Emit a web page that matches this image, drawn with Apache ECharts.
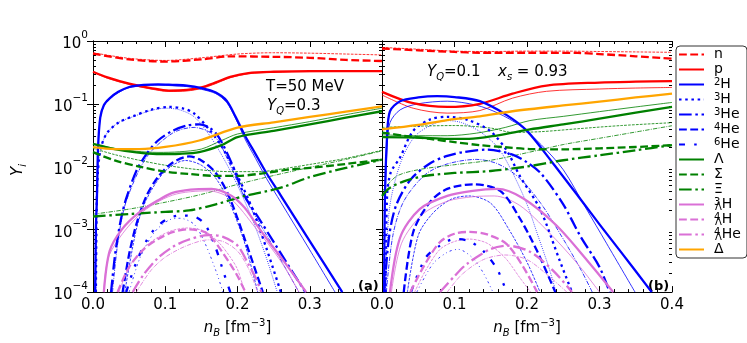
<!DOCTYPE html>
<html><head><meta charset="utf-8">
<script src="https://cdn.jsdelivr.net/npm/echarts@6/dist/echarts.min.js"></script>
<style>html,body{margin:0;padding:0;background:#fff}#c{width:747px;height:343px}</style>
</head><body><div id="c"></div>
<script>
// ---------- panel (a): T=50 MeV, Y_Q=0.3 ----------  [n_B, Y_i]
const aN   = [[0,0.63],[0.05,0.51],[0.1,0.47],[0.15,0.51],[0.19,0.57],[0.25,0.56],[0.3,0.54],[0.35,0.50],[0.4,0.48]];
const aNt  = [[0,0.65],[0.05,0.53],[0.1,0.49],[0.15,0.54],[0.2,0.62],[0.25,0.65],[0.3,0.64],[0.35,0.62],[0.4,0.60]];
const aP   = [[0,0.324],[0.02,0.263],[0.05,0.209],[0.08,0.178],[0.105,0.162],[0.13,0.166],[0.15,0.182],[0.17,0.219],[0.19,0.269],[0.215,0.309],[0.25,0.324],[0.3,0.331],[0.4,0.331]];
const aPt  = [[0,0.32],[0.02,0.255],[0.05,0.203],[0.08,0.172],[0.105,0.157],[0.13,0.160],[0.15,0.175],[0.17,0.21],[0.19,0.26],[0.215,0.30],[0.25,0.318],[0.3,0.325],[0.4,0.328]];
const a2H  = [[0.003,1e-4],[0.004,1e-3],[0.0055,0.0034],[0.007,0.02],[0.01,0.06],[0.015,0.095],[0.023,0.122],[0.035,0.155],[0.05,0.185],[0.07,0.2],[0.09,0.204],[0.11,0.2],[0.13,0.195],[0.15,0.178],[0.17,0.151],[0.185,0.112],[0.197,0.063],[0.21,0.0316],[0.225,0.0158],[0.24,0.0079],[0.26,0.00345],[0.3,6.5e-4],[0.345,1e-4]];
const a2Ht = [[0.003,1e-4],[0.004,1e-3],[0.0055,0.0033],[0.007,0.019],[0.01,0.058],[0.015,0.092],[0.023,0.118],[0.035,0.15],[0.05,0.18],[0.07,0.194],[0.09,0.198],[0.11,0.194],[0.13,0.188],[0.15,0.17],[0.17,0.145],[0.185,0.105],[0.197,0.06],[0.21,0.028],[0.225,0.0135],[0.24,0.0065],[0.26,0.0027],[0.3,4.7e-4],[0.335,1e-4]];
const a3H  = [[0.004,1e-4],[0.0055,0.004],[0.008,0.012],[0.012,0.022],[0.02,0.035],[0.035,0.05],[0.055,0.063],[0.08,0.08],[0.105,0.089],[0.125,0.084],[0.14,0.07],[0.16,0.04],[0.178,0.021],[0.2,0.0071],[0.22,0.0022],[0.24,5e-4],[0.26,1e-4]];
const a3Ht = [[0.004,1e-4],[0.0055,0.004],[0.008,0.012],[0.012,0.022],[0.02,0.035],[0.035,0.05],[0.055,0.062],[0.08,0.078],[0.1,0.085],[0.12,0.08],[0.14,0.062],[0.16,0.033],[0.18,0.014],[0.2,0.005],[0.22,0.0015],[0.24,3.5e-4],[0.255,1e-4]];
const a3He = [[0.025,1e-4],[0.03,3.5e-4],[0.035,8.5e-4],[0.04,0.0017],[0.046,0.0031],[0.06,0.0085],[0.074,0.0158],[0.09,0.026],[0.11,0.037],[0.13,0.045],[0.147,0.047],[0.162,0.041],[0.174,0.0295],[0.192,0.0112],[0.21,0.0034],[0.23,0.00147],[0.25,6.3e-4],[0.27,2.7e-4],[0.294,1e-4]];
const a3Het= [[0.027,1e-4],[0.035,7e-4],[0.046,0.0028],[0.074,0.014],[0.11,0.034],[0.14,0.042],[0.16,0.036],[0.174,0.025],[0.19,0.0105],[0.21,0.0032],[0.25,5.2e-4],[0.285,1e-4]];
const a4He = [[0.041,1e-4],[0.05,4e-4],[0.06,0.0012],[0.074,0.0034],[0.09,0.0068],[0.11,0.0115],[0.133,0.0145],[0.15,0.0125],[0.17,0.0079],[0.188,0.0034],[0.21,7e-4],[0.235,1e-4]];
const a4Het= [[0.044,1e-4],[0.06,0.001],[0.074,0.003],[0.1,0.0085],[0.128,0.0125],[0.15,0.0105],[0.17,0.0065],[0.19,0.0025],[0.21,6e-4],[0.228,1e-4]];
const a6He = [[0.046,1e-4],[0.06,3e-4],[0.08,8.5e-4],[0.1,0.0014],[0.12,0.00166],[0.14,0.0016],[0.155,0.0012],[0.17,5e-4],[0.18,2.2e-4],[0.19,1e-4]];
const a6Het= [[0.05,1e-4],[0.065,3.5e-4],[0.085,9e-4],[0.105,0.0014],[0.12,0.0015],[0.14,0.0012],[0.155,6e-4],[0.17,2.2e-4],[0.18,1e-4]];
const aL   = [[0,0.023],[0.03,0.019],[0.06,0.0168],[0.088,0.0158],[0.12,0.016],[0.147,0.017],[0.178,0.0219],[0.2,0.0295],[0.25,0.037],[0.3,0.047],[0.35,0.06],[0.4,0.076]];
const aLt  = [[0,0.023],[0.03,0.0195],[0.06,0.0175],[0.09,0.0168],[0.12,0.0172],[0.15,0.019],[0.178,0.026],[0.2,0.033],[0.25,0.0415],[0.3,0.052],[0.35,0.067],[0.4,0.085]];
const aS   = [[0,0.017],[0.03,0.0125],[0.064,0.01],[0.1,0.0083],[0.133,0.0076],[0.17,0.0071],[0.2,0.0071],[0.235,0.0078],[0.27,0.0089],[0.3,0.0095],[0.35,0.011],[0.4,0.0129]];
const aSt  = [[0,0.0195],[0.03,0.0155],[0.064,0.0126],[0.1,0.0105],[0.147,0.0089],[0.19,0.0083],[0.23,0.0083],[0.27,0.0095],[0.3,0.0108],[0.35,0.0135],[0.4,0.0182]];
const aX   = [[0,0.0016],[0.05,0.00175],[0.1,0.0019],[0.133,0.002],[0.17,0.0025],[0.21,0.0034],[0.26,0.0046],[0.3,0.0068],[0.35,0.0095],[0.4,0.0129]];
const aXt  = [[0,0.00174],[0.05,0.0021],[0.1,0.0027],[0.15,0.0036],[0.2,0.0052],[0.25,0.0072],[0.3,0.0097],[0.35,0.013],[0.4,0.0178]];
const a3LH = [[0.015,1e-4],[0.023,4.5e-4],[0.04,0.001],[0.064,0.00186],[0.09,0.0029],[0.11,0.0038],[0.135,0.0043],[0.164,0.0044],[0.192,0.0034],[0.21,0.0022],[0.225,0.00125],[0.245,6e-4],[0.26,3.6e-4],[0.295,1e-4]];
const a3LHt= [[0.015,1e-4],[0.023,4e-4],[0.064,0.0017],[0.11,0.0035],[0.16,0.0041],[0.19,0.0031],[0.225,0.00105],[0.26,3.1e-4],[0.285,1e-4]];
const a4LH = [[0.034,1e-4],[0.05,2.5e-4],[0.07,4.8e-4],[0.09,7e-4],[0.11,9e-4],[0.133,1e-3],[0.155,9e-4],[0.168,6.5e-4],[0.178,4.5e-4],[0.19,2.8e-4],[0.2,1.8e-4],[0.211,1e-4]];
const a4LHt= [[0.036,1e-4],[0.05,2.5e-4],[0.07,5e-4],[0.09,7.5e-4],[0.11,9.6e-4],[0.13,1.05e-3],[0.155,9.3e-4],[0.175,6e-4],[0.19,3.6e-4],[0.2,2.3e-4],[0.21,1e-4]];
const a4LHe= [[0.055,1e-4],[0.07,1.9e-4],[0.09,3.5e-4],[0.11,5.2e-4],[0.13,6.7e-4],[0.16,8.1e-4],[0.18,7.6e-4],[0.2,5.5e-4],[0.215,2.8e-4],[0.225,1.7e-4],[0.233,1e-4]];
const a4LHet=[[0.06,1e-4],[0.08,2.2e-4],[0.1,3.6e-4],[0.13,5.5e-4],[0.16,6.8e-4],[0.18,6.4e-4],[0.2,4.5e-4],[0.215,2.4e-4],[0.228,1e-4]];
const aD   = [[0,0.0204],[0.03,0.019],[0.064,0.019],[0.1,0.0205],[0.147,0.026],[0.2,0.0417],[0.25,0.0507],[0.3,0.0617],[0.35,0.075],[0.4,0.091]];

// ---------- panel (b): Y_Q=0.1, x_s=0.93 ----------
const bN   = [[0,0.76],[0.05,0.71],[0.1,0.67],[0.135,0.65],[0.2,0.65],[0.27,0.645],[0.3,0.62],[0.35,0.57],[0.4,0.525]];
const bNt  = [[0,0.79],[0.05,0.74],[0.1,0.69],[0.15,0.68],[0.2,0.69],[0.25,0.69],[0.3,0.68],[0.35,0.67],[0.4,0.66]];
const bP   = [[0,0.155],[0.043,0.102],[0.09,0.089],[0.135,0.1],[0.18,0.145],[0.227,0.195],[0.3,0.218],[0.35,0.225],[0.4,0.229]];
const bPt  = [[0,0.138],[0.043,0.085],[0.09,0.071],[0.135,0.078],[0.18,0.123],[0.227,0.158],[0.3,0.172],[0.35,0.178],[0.4,0.182]];
const b2H  = [[0.003,1e-4],[0.004,0.003],[0.007,0.03],[0.011,0.076],[0.025,0.11],[0.05,0.126],[0.076,0.132],[0.1,0.128],[0.135,0.11],[0.172,0.066],[0.2,0.037],[0.236,0.0112],[0.273,0.0031],[0.3,0.0012],[0.33,4.3e-4],[0.372,1e-4]];
const b2Ht = [[0.003,1e-4],[0.004,0.002],[0.007,0.02],[0.011,0.05],[0.025,0.08],[0.05,0.1],[0.09,0.11],[0.13,0.095],[0.16,0.071],[0.19,0.045],[0.22,0.022],[0.25,0.0089],[0.28,0.0023],[0.31,5.9e-4],[0.349,1e-4]];
const b3H  = [[0.005,1e-4],[0.007,0.0034],[0.012,0.008],[0.025,0.014],[0.043,0.037],[0.066,0.056],[0.09,0.062],[0.117,0.056],[0.149,0.037],[0.172,0.018],[0.19,0.0071],[0.218,0.0021],[0.245,3.2e-4],[0.262,1e-4]];
const b3Ht = [[0.005,1e-4],[0.01,0.002],[0.025,0.011],[0.045,0.03],[0.07,0.047],[0.09,0.054],[0.11,0.05],[0.135,0.036],[0.16,0.02],[0.18,0.008],[0.2,0.0025],[0.215,8e-4],[0.23,2.5e-4],[0.24,1e-4]];
const b3He = [[0.003,1e-4],[0.01,8e-4],[0.02,0.0025],[0.04,0.0063],[0.066,0.0112],[0.09,0.0148],[0.112,0.017],[0.145,0.0186],[0.18,0.0155],[0.2,0.0117],[0.22,0.0076],[0.25,0.0025],[0.273,8e-4],[0.3,2.5e-4],[0.314,1e-4]];
const b3Het= [[0.006,1e-4],[0.015,8e-4],[0.03,0.0028],[0.06,0.0075],[0.09,0.011],[0.13,0.013],[0.16,0.011],[0.19,0.0065],[0.22,0.0025],[0.25,7e-4],[0.275,2.2e-4],[0.29,1e-4]];
const b4He = [[0.03,1e-4],[0.043,9e-4],[0.066,0.0027],[0.09,0.0044],[0.126,0.0052],[0.163,0.0041],[0.19,0.0015],[0.214,4.5e-4],[0.239,1e-4]];
const b4Het= [[0.035,1e-4],[0.05,8e-4],[0.07,0.0018],[0.095,0.003],[0.12,0.0034],[0.15,0.0026],[0.175,0.001],[0.2,3e-4],[0.218,1e-4]];
const b6He = [[0.04,1e-4],[0.06,3.5e-4],[0.08,5.5e-4],[0.1,7e-4],[0.12,6.5e-4],[0.14,4.5e-4],[0.159,2.3e-4],[0.167,1.4e-4],[0.172,1e-4]];
const b6Het= [[0.048,1e-4],[0.07,2.8e-4],[0.09,4.3e-4],[0.105,4.8e-4],[0.125,3.5e-4],[0.14,2e-4],[0.153,1e-4]];
const bL   = [[0,0.0295],[0.05,0.029],[0.09,0.0275],[0.12,0.0275],[0.16,0.0315],[0.204,0.039],[0.25,0.047],[0.3,0.058],[0.35,0.072],[0.4,0.089]];
const bLt  = [[0,0.032],[0.05,0.031],[0.09,0.031],[0.13,0.034],[0.17,0.042],[0.204,0.054],[0.25,0.063],[0.3,0.075],[0.35,0.089],[0.4,0.105]];
const bS   = [[0,0.0347],[0.03,0.031],[0.066,0.0275],[0.1,0.0245],[0.135,0.0219],[0.17,0.0203],[0.204,0.019],[0.25,0.0188],[0.3,0.0195],[0.35,0.0205],[0.4,0.0219]];
const bSt  = [[0,0.042],[0.05,0.044],[0.1,0.045],[0.15,0.041],[0.18,0.035],[0.22,0.036],[0.27,0.04],[0.33,0.045],[0.4,0.05]];
const bX   = [[0,0.0034],[0.01,0.0045],[0.03,0.0058],[0.06,0.0071],[0.1,0.0079],[0.15,0.0085],[0.2,0.01],[0.25,0.0126],[0.3,0.0151],[0.35,0.0182],[0.4,0.0219]];
const bXt  = [[0,0.004],[0.02,0.007],[0.05,0.0089],[0.1,0.0107],[0.15,0.0126],[0.2,0.0166],[0.25,0.0224],[0.3,0.0282],[0.35,0.0355],[0.4,0.0447]];
const b3LH = [[0.011,1e-4],[0.025,7.4e-4],[0.052,0.0021],[0.09,0.0034],[0.125,0.0041],[0.159,0.0044],[0.195,0.0031],[0.24,0.00117],[0.283,3.2e-4],[0.319,1e-4]];
const b3LHt= [[0.013,1e-4],[0.027,6e-4],[0.055,0.0017],[0.09,0.0028],[0.125,0.0033],[0.155,0.0034],[0.19,0.0024],[0.23,9e-4],[0.27,2.8e-4],[0.3,1e-4]];
const b4LH = [[0.039,1e-4],[0.057,2.5e-4],[0.08,6.3e-4],[0.1,8.5e-4],[0.121,9.1e-4],[0.145,8.3e-4],[0.172,5.8e-4],[0.195,2.5e-4],[0.214,1e-4]];
const b4LHt= [[0.045,1e-4],[0.06,2.2e-4],[0.08,4.8e-4],[0.1,6.4e-4],[0.12,7e-4],[0.145,6e-4],[0.17,3.5e-4],[0.19,1.7e-4],[0.205,1e-4]];
const b4LHe= [[0.08,1e-4],[0.1,1.8e-4],[0.117,2.8e-4],[0.149,4.8e-4],[0.172,5.5e-4],[0.204,4.4e-4],[0.236,2.2e-4],[0.262,1e-4]];
const b4LHet=[[0.09,1e-4],[0.11,1.9e-4],[0.14,3.3e-4],[0.17,3.9e-4],[0.2,3.3e-4],[0.23,1.8e-4],[0.255,1e-4]];
const bD   = [[0,0.039],[0.05,0.046],[0.09,0.055],[0.135,0.063],[0.18,0.076],[0.25,0.094],[0.3,0.108],[0.35,0.126],[0.4,0.145]];

const xTicks = [0, 0.1, 0.2, 0.3, 0.4];
const yDecades = [1e-4, 1e-3, 1e-2, 1e-1, 1];
const legendNames = ['n','p','2H','3H','3He','4He','6He','Λ','Σ','Ξ','3ΛH','4ΛH','4ΛHe','Δ'];

// ---------- styling ----------
const RED='#ff0000', BLUE='#0000ff', GREEN='#008000', VIO='#da70d6', ORA='#ffa500';
const FONT = 'DejaVu Sans';
const TW = 2.3, TN = 0.8;
function dash(kind, w){
  if (kind==='solid') return 'solid';
  if (kind==='dashed') return [3.4*w, 1.5*w];
  if (kind==='dotted') return [1.1*w, 1.6*w];
  if (kind==='dashdot') return [5.5*w, 1.6*w, 1.1*w, 1.6*w];
  if (kind==='dashdotdot') return [2.6*w, 4*w, 1.1*w, 4*w, 1.1*w, 4*w];
}
// [legend name, panel, data, color, line kind, thick?]
const specs = [
  ['n',0,aNt,RED,'dashed',0],['n',0,aN,RED,'dashed',1],
  ['p',0,aPt,RED,'solid',0],['p',0,aP,RED,'solid',1],
  ['2H',0,a2Ht,BLUE,'solid',0],['2H',0,a2H,BLUE,'solid',1],
  ['3H',0,a3Ht,BLUE,'dotted',0],['3H',0,a3H,BLUE,'dotted',1],
  ['3He',0,a3Het,BLUE,'dashdot',0],['3He',0,a3He,BLUE,'dashdot',1],
  ['4He',0,a4Het,BLUE,'dashed',0],['4He',0,a4He,BLUE,'dashed',1],
  ['6He',0,a6Het,BLUE,'dashdotdot',0],['6He',0,a6He,BLUE,'dashdotdot',1],
  ['Λ',0,aLt,GREEN,'solid',0],['Λ',0,aL,GREEN,'solid',1],
  ['Σ',0,aSt,GREEN,'dashed',0],['Σ',0,aS,GREEN,'dashed',1],
  ['Ξ',0,aXt,GREEN,'dashdot',0],['Ξ',0,aX,GREEN,'dashdot',1],
  ['3ΛH',0,a3LHt,VIO,'solid',0],['3ΛH',0,a3LH,VIO,'solid',1],
  ['4ΛH',0,a4LHt,VIO,'dashed',0],['4ΛH',0,a4LH,VIO,'dashed',1],
  ['4ΛHe',0,a4LHet,VIO,'dashdot',0],['4ΛHe',0,a4LHe,VIO,'dashdot',1],
  ['Δ',0,aD,ORA,'solid',1],
  ['n',1,bNt,RED,'dashed',0],['n',1,bN,RED,'dashed',1],
  ['p',1,bPt,RED,'solid',0],['p',1,bP,RED,'solid',1],
  ['2H',1,b2Ht,BLUE,'solid',0],['2H',1,b2H,BLUE,'solid',1],
  ['3H',1,b3Ht,BLUE,'dotted',0],['3H',1,b3H,BLUE,'dotted',1],
  ['3He',1,b3Het,BLUE,'dashdot',0],['3He',1,b3He,BLUE,'dashdot',1],
  ['4He',1,b4Het,BLUE,'dashed',0],['4He',1,b4He,BLUE,'dashed',1],
  ['6He',1,b6Het,BLUE,'dashdotdot',0],['6He',1,b6He,BLUE,'dashdotdot',1],
  ['Λ',1,bLt,GREEN,'solid',0],['Λ',1,bL,GREEN,'solid',1],
  ['Σ',1,bSt,GREEN,'dashed',0],['Σ',1,bS,GREEN,'dashed',1],
  ['Ξ',1,bXt,GREEN,'dashdot',0],['Ξ',1,bX,GREEN,'dashdot',1],
  ['3ΛH',1,b3LHt,VIO,'solid',0],['3ΛH',1,b3LH,VIO,'solid',1],
  ['4ΛH',1,b4LHt,VIO,'dashed',0],['4ΛH',1,b4LH,VIO,'dashed',1],
  ['4ΛHe',1,b4LHet,VIO,'dashdot',0],['4ΛHe',1,b4LHe,VIO,'dashdot',1],
  ['Δ',1,bD,ORA,'solid',1]
];
const series = specs.map(([nm,p,d,c,k,th]) => {
  const w = th ? TW : TN;
  return {
    name: th ? nm : nm + '~thin', type:'line', xAxisIndex: p*2, yAxisIndex: p*4,
    data: d, symbol:'none', showSymbol:false, smooth:0.3,
    silent:true, z: th ? 3 : 2, color: c,
    lineStyle:{color:c, width:w, type:dash(k,w), cap:'butt', join:'round'}
  };
});

const minorY = [];
for (let e=-4; e<0; e++) for (let m=2; m<=9; m++) minorY.push(m*Math.pow(10,e));

const axisLineStyle = {show:true, lineStyle:{color:'#000', width:1}};
function xAx(g, pos, labels){
  return {
    gridIndex:g, type:'value', min:0, max:0.4, interval:0.1, position:pos,
    axisLine:axisLineStyle, splitLine:{show:false},
    axisTick:{show:true, inside:true, length:6, lineStyle:{color:'#000'}},
    minorTick:{show:true, splitNumber:5, length:3, lineStyle:{color:'#000'}},
    axisLabel:{show:labels, margin:6, color:'#000', fontFamily:FONT, fontSize:15,
      formatter: v => (g===0 && v>0.35) ? '' : v.toFixed(1)},
    name: labels ? '{i|n}{sb|B} [fm{sp|−3}]' : '',
    nameLocation:'middle', nameGap:24,
    nameTextStyle:{color:'#000', fontFamily:FONT, fontSize:15, rich:{
      i:{fontFamily:FONT, fontStyle:'italic', fontSize:15, color:'#000', lineHeight:20, verticalAlign:'middle'},
      sb:{fontFamily:FONT, fontStyle:'italic', fontSize:10, color:'#000', lineHeight:20, verticalAlign:'bottom'},
      sp:{fontFamily:FONT, fontSize:10, color:'#000', lineHeight:20, verticalAlign:'top'}
    }}
  };
}
function yAx(g, pos, labels, minor){
  const o = {
    gridIndex:g, type:'log', logBase:10, min:1e-4, max:1, position:pos,
    axisLine: minor ? {show:false} : axisLineStyle, splitLine:{show:false}, minorTick:{show:false},
    axisTick:{show:true, inside:true, length: minor?3:6, lineStyle:{color:'#000'}},
    axisLabel:{show:labels, margin:5, color:'#000',
      formatter: v => { const e = Math.round(Math.log10(v)); return '{b|10}{s|' + (e<0 ? '−'+(-e) : e) + '}'; },
      rich:{ b:{fontFamily:FONT, fontSize:15, color:'#000', lineHeight:22, verticalAlign:'bottom'},
             s:{fontFamily:FONT, fontSize:10.5, color:'#000', lineHeight:22, verticalAlign:'top'} }}
  };
  if (minor) { o.axisTick.customValues = minorY; o.axisLabel = {show:false}; }
  else { o.axisTick.customValues = yDecades; if (labels) o.axisLabel.customValues = yDecades; }
  return o;
}

const richSub = {
  sup:{fontFamily:FONT, fontSize:10, color:'#000', lineHeight:15, verticalAlign:'top'},
  sup0:{fontFamily:FONT, fontSize:10, color:'#000', lineHeight:15, verticalAlign:'top', width:1},
  sub:{fontFamily:FONT, fontSize:10, color:'#000', lineHeight:15, verticalAlign:'bottom'}
};
const legendLabel = {
  'n':'n','p':'p','2H':'{sup|2}H','3H':'{sup|3}H','3He':'{sup|3}He','4He':'{sup|4}He','6He':'{sup|6}He',
  'Λ':'Λ','Σ':'Σ','Ξ':'Ξ','3ΛH':'{sup0|3}{sub|Λ}H','4ΛH':'{sup0|4}{sub|Λ}H','4ΛHe':'{sup0|4}{sub|Λ}He','Δ':'Δ'
};

const txt = {fontFamily:FONT, fontSize:15, fill:'#000'};
const subRich = {
  i:{fontFamily:FONT, fontStyle:'italic', fontSize:15, lineHeight:20, verticalAlign:'middle'},
  sb:{fontFamily:FONT, fontStyle:'italic', fontSize:10, lineHeight:20, verticalAlign:'bottom'}
};
const option = {
  animation:false,
  backgroundColor:'#fff',
  textStyle:{fontFamily:FONT},
  grid:[{left:93, top:41, width:289, height:258}, {left:382, top:41, width:290, height:258}],
  xAxis:[xAx(0,'bottom',true), xAx(0,'top',false), xAx(1,'bottom',true), xAx(1,'top',false)],
  yAxis:[yAx(0,'left',true,false), yAx(0,'right',false,false), yAx(0,'left',false,true), yAx(0,'right',false,true),
         yAx(1,'left',false,false), yAx(1,'right',false,false), yAx(1,'left',false,true), yAx(1,'right',false,true)],
  legend:{
    data: legendNames, orient:'vertical', left:676, top:46, width:66,
    itemWidth:25, itemHeight:1, itemGap:0, padding:[1,6,1,2],
    itemStyle:{opacity:0, borderWidth:0},
    borderColor:'#333', borderWidth:1, borderRadius:4, backgroundColor:'#fff',
    selectedMode:false,
    formatter: nm => legendLabel[nm],
    textStyle:{fontFamily:FONT, fontSize:14, color:'#000', lineHeight:15, padding:[0,0,0,5], rich:richSub}
  },
  graphic:[
    {type:'text', left:266, top:80, style:Object.assign({text:'T=50 MeV'}, txt)},
    {type:'text', left:267, top:99, style:Object.assign({text:'{i|Y}{sb|Q}=0.3', rich:subRich}, txt)},
    {type:'text', left:427, top:65, style:Object.assign({text:'{i|Y}{sb|Q}=0.1', rich:subRich}, txt)},
    {type:'text', left:498, top:65, style:Object.assign({text:'{i|x}{sb|s} = 0.93', rich:subRich}, txt)},
    {type:'text', left:358, top:280, style:{text:'(a)', fontFamily:FONT, fontSize:13, fontWeight:'bold', fill:'#000'}},
    {type:'text', left:648, top:280, style:{text:'(b)', fontFamily:FONT, fontSize:13, fontWeight:'bold', fill:'#000'}},
    {type:'text', x:18, y:170, rotation:Math.PI/2, style:{text:'{i|Y}{sb|i}', align:'center', verticalAlign:'middle', fill:'#000', rich:subRich}}
  ],
  series: series
};
const chart = echarts.init(document.getElementById('c'), null, {renderer:'canvas'});
chart.setOption(option);
</script></body></html>
